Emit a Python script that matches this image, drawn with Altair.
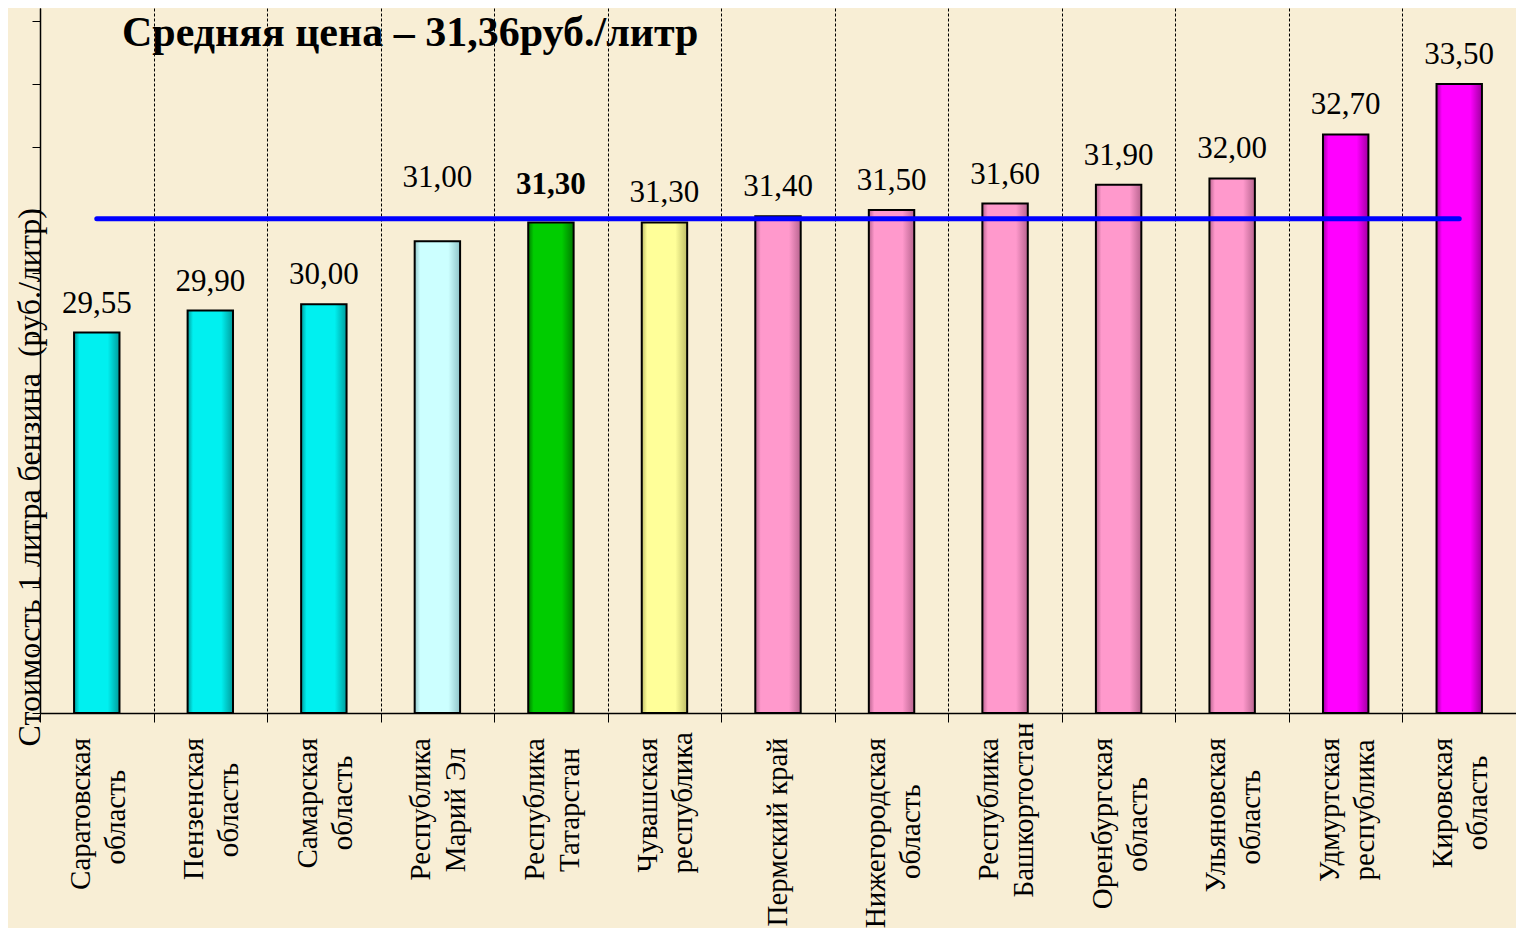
import altair as alt
import pandas as pd

# ---- data ----
region_line1 = ["Саратовская", "Пензенская", "Самарская", "Республика", "Республика",
                "Чувашская", "Пермский край", "Нижегородская", "Республика",
                "Оренбургская", "Ульяновская", "Удмуртская", "Кировская"]
region_line2 = ["область", "область", "область", "Марий Эл", "Татарстан",
                "республика", "", "область", "Башкортостан",
                "область", "область", "республика", "область"]
price = [29.55, 29.90, 30.00, 31.00, 31.30, 31.30, 31.40, 31.50, 31.60, 31.90, 32.00, 32.70, 33.50]
bar_color = ["#00F0F0", "#00F0F0", "#00F0F0", "#CCFFFF", "#00CC00", "#FFFF99",
             "#FF99CC", "#FF99CC", "#FF99CC", "#FF99CC", "#FF99CC", "#FF00FF", "#FF00FF"]
mean_price = 31.36
y_ticks = [23.5, 24.5, 25.5, 26.5, 27.5, 28.5, 29.5, 30.5, 31.5, 32.5, 33.5, 34.5]
y_domain = [23.5, 34.71]

title_text = "Средняя цена – 31,36руб./литр"
y_title = "Стоимость 1 литра бензина\u00a0 (руб./литр)"

# ---- layout / style ----
W, H = 1476, 705
SERIF = "Liberation Serif"
BG = "#F8EED5"
shade = {"#00F0F0": "#009C9C", "#CCFFFF": "#8FC4C8", "#00CC00": "#007A00",
         "#FFFF99": "#BDBD66", "#FF99CC": "#B8648F", "#FF00FF": "#A000A0"}

regions = [(a + " " + b).strip() for a, b in zip(region_line1, region_line2)]
df = pd.DataFrame({
    "region": regions,
    "l1": region_line1,
    "l2": region_line2,
    "price": price,
    "label": [f"{p:.2f}".replace(".", ",") for p in price],
    "mean": [mean_price] * len(price),
})

x_enc = alt.X(
    "region:N", sort=regions, title=None,
    scale=alt.Scale(paddingInner=0, paddingOuter=0),
    axis=alt.Axis(labels=False, tickBand="extent", grid=True, gridColor="#000000",
                  gridDash=[3, 2], gridWidth=1, gridOpacity=1, ticks=True, tickSize=9,
                  tickColor="#000000", tickWidth=1, domainColor="#000000", domainWidth=1.5),
)
y_scale = alt.Scale(domain=y_domain, nice=False, zero=False)
y_axis = alt.Axis(values=y_ticks, labels=False, grid=False, ticks=True, tickSize=8,
                  tickColor="#000000", tickWidth=1, domainColor="#000000", domainWidth=1.5,
                  title=y_title, titleAngle=270, titleAlign="left", titleBaseline="alphabetic",
                  titleX=-1, titleY=H + 33, titleFont=SERIF, titleFontSize=32,
                  titleFontWeight="normal", titleColor="#000000")
y_enc = alt.Y("price:Q", scale=y_scale, axis=y_axis)

base = alt.Chart(df)

bar_layers = []
for col in dict.fromkeys(bar_color):
    members = [r for r, c in zip(regions, bar_color) if c == col]
    expr = "indexof(" + str(members) + ", datum.region) >= 0"
    grad = alt.Gradient(
        gradient="linear", x1=0, x2=1, y1=0, y2=0,
        stops=[alt.GradientStop(color=shade[col], offset=0),
               alt.GradientStop(color=col, offset=0.12),
               alt.GradientStop(color=col, offset=0.74),
               alt.GradientStop(color=shade[col], offset=1)],
    )
    bar_layers.append(
        base.transform_filter(expr).mark_bar(
            width=alt.RelativeBandSize(0.4), stroke="#000000", strokeWidth=2, color=grad
        ).encode(x=x_enc, y=y_enc, y2=alt.datum(y_domain[0]))
    )

mean_line = base.mark_line(color="#0000FF", strokeWidth=5, strokeCap="round").encode(
    x=x_enc, y=alt.Y("mean:Q", scale=y_scale, axis=y_axis),
)

special = "datum.region == 'Республика Марий Эл' || datum.region == 'Республика Татарстан'"
values_main = base.transform_filter("!(" + special + ")").mark_text(
    font=SERIF, fontSize=31, dy=-29, baseline="middle", color="#000000"
).encode(x=x_enc, y=y_enc, text="label:N")
values_mari = base.transform_filter("datum.region == 'Республика Марий Эл'").mark_text(
    font=SERIF, fontSize=31, dy=-63, baseline="middle", color="#000000"
).encode(x=x_enc, y=y_enc, text="label:N")
values_tat = base.transform_filter("datum.region == 'Республика Татарстан'").mark_text(
    font=SERIF, fontSize=31, fontWeight="bold", dy=-37, baseline="middle", color="#000000"
).encode(x=x_enc, y=y_enc, text="label:N")

two_line = "datum.l2 != ''"
lab1_two = base.transform_filter(two_line).mark_text(
    font=SERIF, fontSize=29, angle=270, align="right", baseline="middle", dy=-16, color="#000000"
).encode(x=x_enc, y=alt.value(H + 25), text="l1:N")
lab1_one = base.transform_filter("datum.l2 == ''").mark_text(
    font=SERIF, fontSize=29, angle=270, align="right", baseline="middle", color="#000000"
).encode(x=x_enc, y=alt.value(H + 25), text="l1:N")
lab2 = base.transform_filter(two_line).transform_calculate(
    l2y=f"{H + 25} + length(datum.l1) * 7.2"
).mark_text(
    font=SERIF, fontSize=29, angle=270, align="center", baseline="middle", dy=19, color="#000000"
).encode(x=x_enc, y=alt.Y("l2y:Q", scale=None, axis=None), text="l2:N")

title_mark = alt.Chart(pd.DataFrame({"t": [title_text]})).mark_text(
    font=SERIF, fontSize=42, fontWeight="bold", align="left", baseline="alphabetic",
    color="#000000"
).encode(x=alt.value(82), y=alt.value(38), text="t:N")

chart = alt.layer(
    *bar_layers, mean_line, values_main, values_mari, values_tat,
    lab1_two, lab1_one, lab2, title_mark
).properties(
    width=W, height=H,
    autosize=alt.AutoSizeParams(type="none"),
    padding={"left": 32, "top": 0, "right": 0, "bottom": 215},
    background=BG,
).configure_view(strokeWidth=0)

chart.save("out.html", embed_options={"renderer": "svg", "actions": False})
